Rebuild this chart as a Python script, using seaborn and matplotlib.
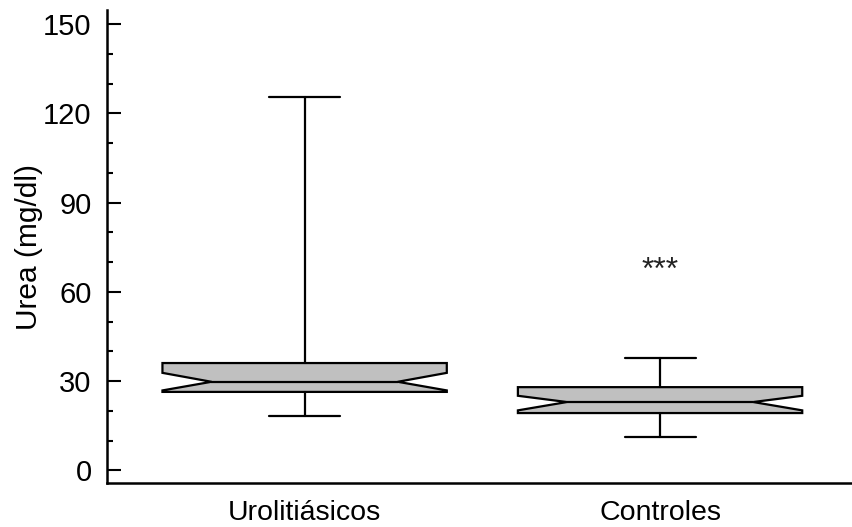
import matplotlib
matplotlib.use("Agg")
import matplotlib.pyplot as plt
from matplotlib.path import Path
from matplotlib.ticker import MultipleLocator
import seaborn as sns

# Summary statistics of urea (mg/dl) per group
groups = ["Urolitiásicos", "Controles"]
whisker_low = [18.4, 11.1]
q1 = [26.4, 19.3]
median = [29.8, 23.0]
q3 = [36.1, 28.0]
whisker_high = [125.4, 37.8]
ci_low = [26.9, 20.2]
ci_high = [32.8, 25.1]
y_ticks = [0, 30, 60, 90, 120, 150]
significance = "***"
significance_y = 67.0

sns.set_theme(style="ticks", rc={"text.color": "black", "axes.labelcolor": "black",
                                 "xtick.color": "black", "ytick.color": "black"})
plt.rcParams["font.family"] = ["Liberation Sans", "DejaVu Sans"]

fig = plt.figure(figsize=(8.52, 5.27), dpi=100)
ax = fig.add_axes([107 / 852, 44 / 527, 745 / 852, 473 / 527])

stats = []
for i, g in enumerate(groups):
    stats.append(dict(label=g, whislo=whisker_low[i], q1=q1[i], med=median[i],
                      q3=q3[i], whishi=whisker_high[i], cilo=ci_low[i],
                      cihi=ci_high[i], fliers=[]))

positions = list(range(len(groups)))
width = 0.8
lw = 1.6
art = ax.bxp(stats, positions=positions, widths=width, capwidths=0.2,
             shownotches=True, patch_artist=True, showfliers=False,
             boxprops=dict(facecolor="#C0C0C0", edgecolor="black", linewidth=lw),
             medianprops=dict(color="black", linewidth=lw),
             whiskerprops=dict(color="black", linewidth=lw),
             capprops=dict(color="black", linewidth=lw))

# deeper notches than the matplotlib default
notch_half = 0.262
for box, med, pos in zip(art["boxes"], art["medians"], positions):
    path = box.get_path()
    v = path.vertices.copy()
    v[3, 0] = pos + notch_half
    v[8, 0] = pos - notch_half
    box.set_path(Path(v, path.codes))
    med.set_xdata([pos - notch_half, pos + notch_half])

ax.text(1, significance_y, significance, ha="center", va="center",
        fontsize=23, color="#222222")

ax.set_xlim(-0.556, 1.540)
ax.set_ylim(-4.2, 154.7)
ax.set_yticks(y_ticks)
ax.yaxis.set_minor_locator(MultipleLocator(10))
ax.set_xticks(positions)
ax.set_xticklabels(groups, fontsize=20.5)
ax.tick_params(axis="x", length=0, pad=12)
ax.tick_params(axis="y", which="major", direction="in", length=10, width=1.5,
               pad=11, labelsize=21)
ax.tick_params(axis="y", which="minor", direction="in", length=4.5, width=1.5)
ax.set_ylabel("Urea (mg/dl)", fontsize=21.5, labelpad=0)

for side in ["top", "right"]:
    ax.spines[side].set_visible(False)
for side in ["left", "bottom"]:
    ax.spines[side].set_linewidth(1.8)
    ax.spines[side].set_color("black")
ax.set_facecolor("white")
fig.patch.set_facecolor("white")

fig.savefig("out.png", dpi=100, facecolor="white")
